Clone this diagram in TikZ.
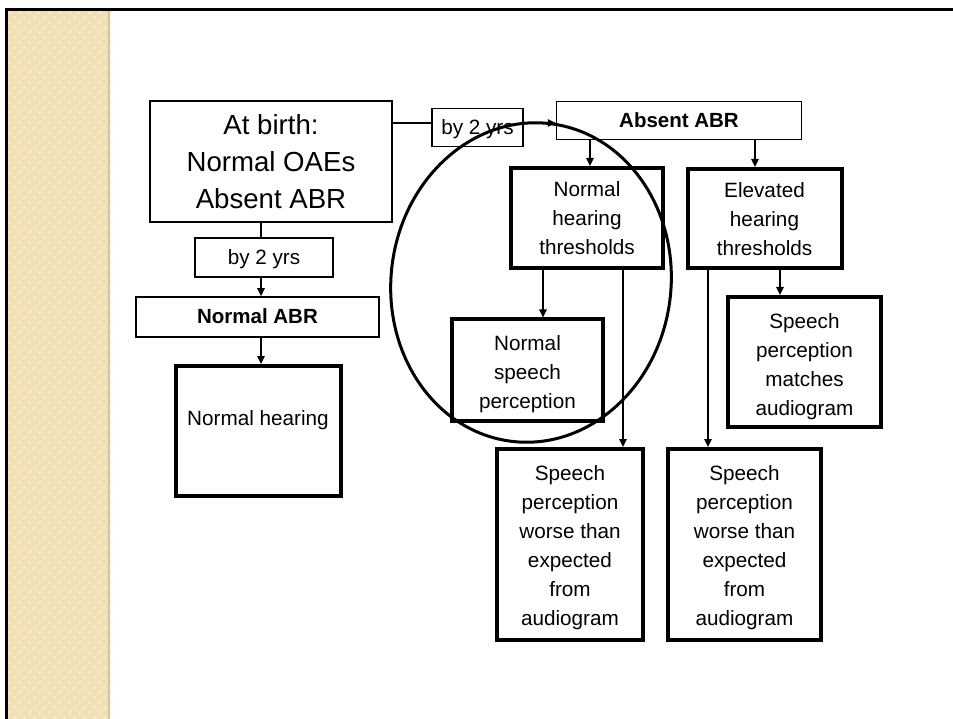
\documentclass[tikz,border=0pt]{standalone}
\usepackage{fontspec}
\setmainfont{Liberation Sans}
\usetikzlibrary{arrows.meta}
\definecolor{beige}{RGB}{242,224,181}
\definecolor{beigelt}{RGB}{247,234,202}
\definecolor{beigedk}{RGB}{214,198,160}
\newcommand\boxtext[2][-3pt]{\raisebox{#1}[\height][\depth]{\begin{tabular}{@{}c@{}}#2\end{tabular}}}
\begin{document}
\begin{tikzpicture}[x=1pt,y=-1pt,
  box/.style={draw, inner sep=0pt, fill=white,
    font=\fontsize{20.7}{29}\selectfont},
  thinbox/.style={box, line width=1.5pt},
  thickbox/.style={box, line width=4pt},
  conn/.style={line width=1.6pt},
  arr/.style={line width=1.6pt, -{Triangle[length=8pt,width=7.5pt]}}]
\useasboundingbox (0,0) rectangle (953,719);
% background strip
\fill[beige] (7.5,11) rectangle (110,719);
\foreach \i in {0,...,20}{
  \foreach \j in {0,...,141}{
    \pgfmathtruncatemacro{\chk}{mod(\i+\j,2)}
    \ifnum\chk=0
      \fill[beigelt] (8+5*\i,11+5*\j) rectangle ++(2.6,2.6);
    \fi
  }
}
\fill[beigedk] (107.5,11) rectangle (110,719);
% frame
\draw[line width=3pt] (6,719) -- (6,9.6) -- (953,9.6);
% nodes
\node[thinbox, minimum width=242pt, minimum height=121pt,
  font=\fontsize{27.6}{37}\selectfont] (atbirth) at (271,161.5)
  {\boxtext{At birth:\\Normal OAEs\\Absent ABR}};
\node[thinbox, minimum width=91pt, minimum height=38pt] (by2top) at (477.5,127.5) {\boxtext[-1.5pt]{by 2 yrs}};
\node[thinbox, minimum width=245pt, minimum height=38pt,
  font=\fontsize{20.5}{29}\selectfont\bfseries] (absent) at (679,120.5) {\boxtext[-1.5pt]{Absent ABR}};
\node[thickbox, minimum width=152pt, minimum height=100pt] (nht) at (587,218)
  {\boxtext[-2pt]{Normal\\hearing\\thresholds}};
\node[thickbox, minimum width=154pt, minimum height=99pt] (eht) at (764.5,218.5)
  {\boxtext[-2pt]{Elevated\\hearing\\thresholds}};
\node[thinbox, minimum width=138pt, minimum height=39pt] (by2left) at (264,257.5) {\boxtext[-1.5pt]{by 2 yrs}};
\node[thinbox, minimum width=243pt, minimum height=40pt,
  font=\fontsize{20.5}{29}\selectfont\bfseries] (nabr) at (257.5,317) {\boxtext[-0.5pt]{Normal ABR}};
\node[thickbox, minimum width=165pt, minimum height=130pt] (nhear) at (258,431)
  {\boxtext[11pt]{Normal hearing}};
\node[thickbox, minimum width=151pt, minimum height=101pt] (nsp) at (527.5,370)
  {\boxtext[-4pt]{Normal\\speech\\perception}};
\node[thickbox, minimum width=153pt, minimum height=130pt] (match) at (804.5,362)
  {\boxtext[-4.5pt]{Speech\\perception\\matches\\audiogram}};
\node[thickbox, minimum width=146pt, minimum height=191pt] (worseL) at (570,544.5)
  {\boxtext{Speech\\perception\\worse than\\expected\\from\\audiogram}};
\node[thickbox, minimum width=153pt, minimum height=191pt] (worseR) at (744.5,544.5)
  {\boxtext{Speech\\perception\\worse than\\expected\\from\\audiogram}};
% connectors
\draw[conn] (atbirth.east |- 0,123) -- (by2top.west |- 0,123);
\draw[arr] (by2top.east |- 0,123) -- (absent.west |- 0,123);
\draw[arr] (absent.south -| 590,0) -- (nht.north -| 590,0);
\draw[arr] (absent.south -| 755,0) -- (eht.north -| 755,0);
\draw[conn] (atbirth.south -| 261,0) -- (by2left.north -| 261,0);
\draw[arr] (by2left.south -| 261,0) -- (nabr.north -| 261,0);
\draw[arr] (nabr.south -| 261,0) -- (nhear.north -| 261,0);
\draw[arr] (nht.south -| 543,0) -- (nsp.north -| 543,0);
\draw[arr] (nht.south -| 623,0) -- (worseL.north -| 623,0);
\draw[arr] (eht.south -| 708,0) -- (worseR.north -| 708,0);
\draw[arr] (eht.south -| 780,0) -- (match.north -| 780,0);
% ellipse
\coordinate (ec) at (531,282.5);
\draw[line width=3pt, rotate around={-7:(ec)}] (ec) ellipse [x radius=140pt, y radius=160pt];
\end{tikzpicture}
\end{document}
